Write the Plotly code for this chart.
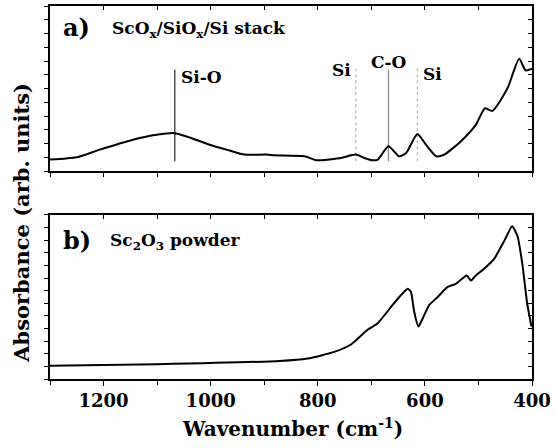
import plotly.graph_objects as go

# ---- data: panel a (ScOx/SiOx/Si stack) ----
wn_a = [1300, 1250, 1207, 1145, 1101, 1067, 1045, 1002, 965, 937, 896, 881, 825, 803,
        757, 729, 713, 698, 688, 668, 648, 635, 614, 598, 579, 564, 533, 505, 488, 474,
        446, 424, 412, 400]
abs_a = [0.07, 0.084, 0.13, 0.19, 0.22, 0.23, 0.21, 0.16, 0.125, 0.10, 0.10, 0.096, 0.09, 0.066,
         0.08, 0.10, 0.08, 0.066, 0.07, 0.15, 0.09, 0.11, 0.225, 0.16, 0.09, 0.10, 0.18, 0.28, 0.38, 0.365,
         0.50, 0.68, 0.61, 0.62]

# ---- data: panel b (Sc2O3 powder) ----
wn_b = [1300, 1100, 871, 819, 769, 738, 707, 688, 663, 645, 632, 626, 620, 612, 604, 592,
        576, 558, 542, 522, 514, 505, 490, 471, 452, 437, 427, 418, 409, 401]
abs_b = [0.08, 0.09, 0.11, 0.125, 0.165, 0.21, 0.30, 0.34, 0.44, 0.51, 0.55, 0.53, 0.41, 0.32, 0.37, 0.45,
         0.50, 0.56, 0.58, 0.63, 0.60, 0.63, 0.67, 0.73, 0.84, 0.93, 0.87, 0.70, 0.46, 0.32]

# ---- peak markers in panel a ----
mark_wn = [1067, 729, 668, 614]
mark_label = ["Si-O", "Si", "C-O", "Si"]
mark_top = [0.614, 0.622, 0.614, 0.633]
mark_bottom = [0.06, 0.06, 0.06, 0.06]
mark_color = ["#333333", "#bbbbbb", "#888888", "#bbbbbb"]
mark_dash = ["solid", "dot", "solid", "dot"]

x_ticks = [1200, 1000, 800, 600, 400]

FONT = "DejaVu Serif"

fig = go.Figure()

# marker lines
for w, t, b, c, d in zip(mark_wn, mark_top, mark_bottom, mark_color, mark_dash):
    fig.add_trace(go.Scatter(x=[w, w], y=[b, t], mode="lines",
                             line=dict(color=c, width=1.3, dash=d),
                             xaxis="x", yaxis="y", showlegend=False, hoverinfo="skip"))

fig.add_trace(go.Scatter(x=wn_a, y=abs_a, mode="lines",
                         line=dict(color="black", width=2, shape="spline", smoothing=0.6),
                         xaxis="x", yaxis="y", showlegend=False))
fig.add_trace(go.Scatter(x=wn_b, y=abs_b, mode="lines",
                         line=dict(color="black", width=2, shape="spline", smoothing=0.5),
                         xaxis="x2", yaxis="y2", showlegend=False))
# dummy traces for mirror-tick axes
fig.add_trace(go.Scatter(x=[None], y=[None], xaxis="x3", yaxis="y3", showlegend=False, hoverinfo="skip"))
fig.add_trace(go.Scatter(x=[None], y=[None], xaxis="x4", yaxis="y4", showlegend=False, hoverinfo="skip"))

dom_a = [0.5573, 1.0]
dom_b = [0.0, 0.44]
xr = [1300, 400]

axline = dict(showline=True, linecolor="black", linewidth=1.5, showgrid=False, zeroline=False)

fig.update_layout(
    width=555, height=448,
    margin=dict(l=50, r=22, t=4, b=69),
    paper_bgcolor="white", plot_bgcolor="white",
    font=dict(family=FONT, color="black"),
    xaxis=dict(domain=[0, 1], anchor="y", range=xr, ticks="outside", ticklen=4, tickwidth=1.3,
               tickcolor="black", dtick=100, tick0=400, showticklabels=False, mirror=True, **axline),
    yaxis=dict(domain=dom_a, anchor="x", range=[0, 1], ticks="outside", ticklen=4, tickwidth=1.3,
               tickcolor="black", dtick=1 / 12, tick0=0, showticklabels=False, mirror=True, **axline),
    xaxis3=dict(overlaying="x", side="top", anchor="y", range=xr, ticks="inside", ticklen=4,
                tickwidth=1.3, tickcolor="black", dtick=100, tick0=400, showticklabels=False,
                showline=False, showgrid=False, zeroline=False),
    yaxis3=dict(overlaying="y", side="right", anchor="x", range=[0, 1], ticks="inside", ticklen=4,
                tickwidth=1.3, tickcolor="black", dtick=1 / 12, tick0=0, showticklabels=False,
                showline=False, showgrid=False, zeroline=False),
    xaxis2=dict(domain=[0, 1], anchor="y2", range=xr, ticks="outside", ticklen=5, tickwidth=1.3,
                tickcolor="black", tickmode="array", tickvals=x_ticks, ticktext=[str(v) for v in x_ticks],
                tickfont=dict(family=FONT, size=18, weight="bold", color="black"),
                minor=dict(dtick=100, tick0=400, ticks="outside", ticklen=4, tickwidth=1.3, tickcolor="black"),
                mirror=True, **axline),
    yaxis2=dict(domain=dom_b, anchor="x2", range=[0, 1], ticks="outside", ticklen=4, tickwidth=1.3,
                tickcolor="black", dtick=1 / 13, tick0=0, showticklabels=False, mirror=True, **axline),
    xaxis4=dict(overlaying="x2", side="top", anchor="y2", range=xr, ticks="inside", ticklen=4,
                tickwidth=1.3, tickcolor="black", dtick=100, tick0=400, showticklabels=False,
                showline=False, showgrid=False, zeroline=False),
    yaxis4=dict(overlaying="y2", side="right", anchor="x2", range=[0, 1], ticks="inside", ticklen=4,
                tickwidth=1.3, tickcolor="black", dtick=1 / 13, tick0=0, showticklabels=False,
                showline=False, showgrid=False, zeroline=False),
)

ann = []
# panel labels
ann.append(dict(text="<b>a)</b>", xref="x domain", yref="y domain", x=0.022, y=0.867,
                xanchor="left", yanchor="middle", showarrow=False, font=dict(size=24)))
ann.append(dict(text="<b>ScO<sub>x</sub>/SiO<sub>x</sub>/Si stack</b>", xref="x domain", yref="y domain",
                x=0.124, y=0.86, xanchor="left", yanchor="middle", showarrow=False, font=dict(size=17)))
ann.append(dict(text="<b>b)</b>", xref="x2 domain", yref="y2 domain", x=0.022, y=0.842,
                xanchor="left", yanchor="middle", showarrow=False, font=dict(size=24)))
ann.append(dict(text="<b>Sc<sub>2</sub>O<sub>3</sub> powder</b>", xref="x2 domain", yref="y2 domain",
                x=0.12, y=0.835, xanchor="left", yanchor="middle", showarrow=False, font=dict(size=17)))

# peak labels
lab_anchor = ["left", "right", "center", "left"]
lab_shift = [4, -3, 1, 4]
lab_y = [0.572, 0.614, 0.663, 0.59]
for w, lab, a, s, yy in zip(mark_wn, mark_label, lab_anchor, lab_shift, lab_y):
    ann.append(dict(text=f"<b>{lab}</b>", x=w, xref="x", y=yy, yref="y domain", xanchor=a, xshift=s,
                    yanchor="middle", showarrow=False, font=dict(size=17)))

# axis titles
ann.append(dict(text="<b>Absorbance (arb. units)</b>", xref="paper", yref="paper", x=-0.058, y=0.419,
                xanchor="center", yanchor="middle", textangle=-90, showarrow=False, font=dict(size=21)))
ann.append(dict(text="<b>Wavenumber (cm<sup>-1</sup>)</b>", xref="paper", yref="paper", x=0.504, y=-0.131,
                xanchor="center", yanchor="middle", showarrow=False, font=dict(size=20)))

fig.update_layout(annotations=ann)

fig.write_html("out.html")
